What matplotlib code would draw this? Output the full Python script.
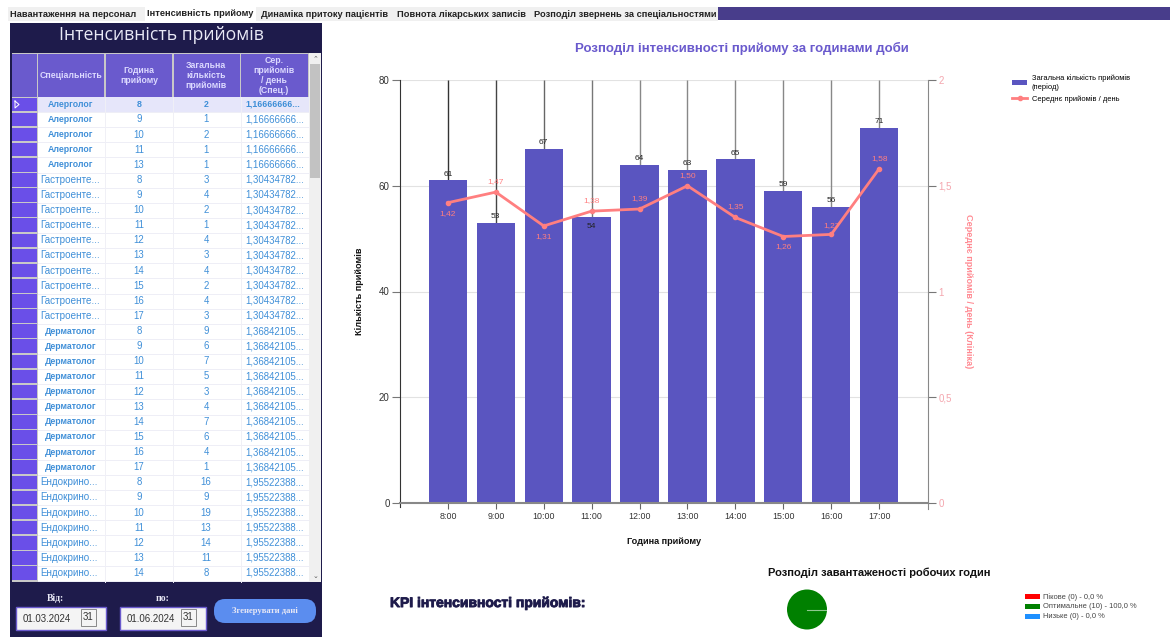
import matplotlib
matplotlib.use("Agg")
import matplotlib.pyplot as plt
import matplotlib.patheffects as pe
from matplotlib.patches import Rectangle, FancyBboxPatch

# --- chart data ---
hours = ["8:00", "9:00", "10:00", "11:00", "12:00", "13:00", "14:00", "15:00", "16:00", "17:00"]
total_visits = [61, 53, 67, 54, 64, 63, 65, 59, 56, 71]
avg_per_day = [1.42, 1.47, 1.31, 1.38, 1.39, 1.50, 1.35, 1.26, 1.27, 1.58]

load_labels = ["Пікове (0) - 0,0 %", "Оптимальне (10) - 100,0 %", "Низьке (0) - 0,0 %"]
load_values = [0, 10, 0]
load_colors = ["#ff0000", "#008000", "#1e90ff"]

# --- grid contents ---
grid_specialty = ["Алерголог"] * 5 + ["Гастроенте..."] * 10 + ["Дерматолог"] * 10 + ["Ендокрино..."] * 7
grid_hour = [8, 9, 10, 11, 13,
             8, 9, 10, 11, 12, 13, 14, 15, 16, 17,
             8, 9, 10, 11, 12, 13, 14, 15, 16, 17,
             8, 9, 10, 11, 12, 13, 14]
grid_count = [2, 1, 2, 1, 1,
              3, 4, 2, 1, 4, 3, 4, 2, 4, 3,
              9, 6, 7, 5, 3, 4, 7, 6, 4, 1,
              16, 9, 19, 13, 14, 11, 8]
grid_avg = ["1,16666666..."] * 5 + ["1,30434782..."] * 10 + ["1,36842105..."] * 10 + ["1,95522388..."] * 7
grid_headers = ["Спеціальність", "Година\nприйому", "Загальна\nкількість\nприйомів",
                "Сер.\nприйомів\n/ день\n(Спец.)"]
tab_names = ["Навантаження на персонал", "Інтенсивність прийому", "Динаміка притоку пацієнтів",
             "Повнота лікарських записів", "Розподіл звернень за спеціальностями"]

W, H = 1170, 637
NAVY = "#1e1b4b"
SLATE = "#6a5acd"
BAR = "#5a55c0"
LINE = "#ff7f80"
SANS = ["Liberation Sans", "DejaVu Sans"]
SERIF = ["Liberation Serif", "DejaVu Serif"]

plt.rcParams["font.family"] = SANS
fig = plt.figure(figsize=(W / 100, H / 100), dpi=100, facecolor="white")


def px_axes(x0, y0, x1, y1, **kw):
    """Axes placed by pixel edges, measured from the top-left of the figure."""
    return fig.add_axes([x0 / W, 1 - y1 / H, (x1 - x0) / W, (y1 - y0) / H], **kw)


# --- window chrome and data grid, drawn on a pixel-unit canvas ---
ui = px_axes(0, 0, W, H)
ui.set_xlim(0, W)
ui.set_ylim(H, 0)
ui.axis("off")


def box(x0, y0, x1, y1, color, **kw):
    ui.add_patch(Rectangle((x0, y0), x1 - x0, y1 - y0, facecolor=color, edgecolor="none", **kw))


box(8, 7, 718, 21, "#f0f0f0")
box(718, 7, W, 20, "#483d8b")
box(145, 6, 256, 22, "white")
tab_left = [10, 147, 261, 397, 534]
for i, (name, x) in enumerate(zip(tab_names, tab_left)):
    ui.text(x, 14.5 if i != 1 else 13, name, fontsize=6.65, fontweight="bold", color="#222222",
            va="center", ha="left")

box(10, 23, 322, 637, NAVY)
ui.text(161, 35, "Інтенсивність прийомів", color="#e8e8f5", fontsize=12.7, ha="center", va="center",
        family=["Open Sans", "DejaVu Sans"])

box(12, 53, 320, 582, "#c8c8c8")
box(38, 97, 309, 582, "white")

col_edges = [(38, 104), (106, 172), (174, 240), (241, 308)]
col_centers = [71, 139, 206, 274]
box(12, 54, 37, 97, SLATE)
for (a, b), c, head in zip(col_edges, col_centers, grid_headers):
    box(a, 54, b, 97, SLATE)
    ui.text(c, 75.5, head, color="#dcd9ff", fontsize=6.3, fontweight="bold", ha="center", va="center",
            linespacing=1.1)

ROW_TOP, ROW_STEP = 97, 15.12
for i, (spec, hour, count, avg) in enumerate(zip(grid_specialty, grid_hour, grid_count, grid_avg)):
    top = ROW_TOP + i * ROW_STEP
    mid = top + ROW_STEP / 2 - 0.3
    box(12, top + 0.5, 37, top + ROW_STEP - 1, "#6a4fe8")
    if i == 0:
        box(38, top, 309, top + ROW_STEP, "#e6e6fa")
    ui.plot([38, 309], [top + ROW_STEP] * 2, color="#eeeef6", lw=0.7)
    weight = "bold" if i == 0 else "normal"
    txt = "#3f8fd8"
    centred = spec.endswith("г")
    if centred:
        ui.text(71, mid, spec, color=txt, fontsize=6.3, fontweight="bold", ha="center", va="center")
    else:
        ui.text(40, mid, spec, color=txt, fontsize=7.1, ha="left", va="center")
    num_size = 6.4 if i == 0 else 6.9
    ui.text(139, mid, str(hour), color=txt, fontsize=num_size, fontweight=weight, ha="center", va="center")
    ui.text(206, mid, str(count), color=txt, fontsize=num_size, fontweight=weight, ha="center", va="center")
    ui.text(245, mid, avg, color=txt, fontsize=num_size, fontweight=weight, ha="left", va="center")

for a, b in [(104, 106), (172, 174), (240, 241)]:
    ui.plot([(a + b) / 2] * 2, [97, 582], color="#f0f0f6", lw=0.7)

# row-selection marker and scrollbar
ui.plot([15, 19, 15, 15], [101, 104.5, 108, 101], color="white", lw=0.7)
box(309, 53, 321, 582, "#f0f0f0")
box(310, 64, 320, 178, "#c2c2c2")
ui.text(315, 59, "⌃", fontsize=5, color="#555555", ha="center", va="center")
ui.text(315, 576, "⌄", fontsize=5, color="#555555", ha="center", va="center")

# date range controls
ui.text(55, 598.5, "Від:", color="#e8e8f5", fontsize=7, fontweight="bold", ha="center", va="center",
        family=SERIF)
ui.text(163, 598.5, "по:", color="#e8e8f5", fontsize=7, fontweight="bold", ha="center", va="center",
        family=SERIF)
for x0, x1, date in [(16, 106, "01.03.2024"), (120, 206, "01.06.2024")]:
    ui.add_patch(Rectangle((x0, 607), x1 - x0, 23, facecolor="#f4f4f4", edgecolor=SLATE, lw=1))
    ui.text(x0 + 7, 618.5, date, color="#333333", fontsize=7, ha="left", va="center")
    ui.add_patch(Rectangle((x1 - 25, 609), 15, 17, facecolor="#f4f4f4", edgecolor="#777777", lw=0.6))
    ui.text(x1 - 17.5, 617.5, "31", color="#333333", fontsize=7, ha="center", va="center")
ui.add_patch(FancyBboxPatch((214, 599), 102, 24, boxstyle="round,pad=0,rounding_size=11",
                            facecolor="#5b8def", edgecolor="none"))
ui.text(265, 610.5, "Згенерувати дані", color="#e8e8f5", fontsize=6.2, fontweight="bold", ha="center",
        va="center", family=SERIF)

# --- bars and average line ---
ax = px_axes(400, 80, 928, 503)
ax.set_facecolor("none")
x = list(range(len(hours)))
ax.set_xlim(-1, 10.02)
ax.set_ylim(0, 80)
ax.grid(axis="y", color="#e2e2e2", lw=0.8)
ax.set_axisbelow(True)
ax.bar(x, total_visits, width=0.8, color=BAR, zorder=2, label="Загальна кількість прийомів\n(період)")
stem_colors = ["#333333", "#444444", "#666666", "#777777", "#888888", "#888888", "#888888", "#888888",
               "#888888", "#888888"]
ax.vlines(x, total_visits, 80, colors=stem_colors, lw=1.0, zorder=1.5)
ax.set_xticks(x, hours)
ax.set_yticks([0, 20, 40, 60, 80])
ax.tick_params(axis="x", length=4, width=0.8, color="#666666", labelsize=6.4, labelcolor="#333333", pad=2.5)
ax.tick_params(axis="y", length=6, width=0.8, color="#777777", labelsize=7, labelcolor="#333333", pad=1.5)
ax.spines["top"].set_visible(False)
ax.spines["right"].set_visible(False)
ax.spines["left"].set_color("#333333")
ax.spines["left"].set_bounds(-0.8, 80)
ax.spines["bottom"].set_color("#888888")
ax.spines["bottom"].set_linewidth(1.5)
ax.set_xlabel("Година прийому", fontsize=6.6, fontweight="bold", color="#111111")
ax.xaxis.set_label_coords((664 - 400) / 528, -(537 - 503) / 423, transform=ax.transAxes)
ax.set_ylabel("Кількість прийомів", fontsize=6.6, fontweight="bold", color="#111111", va="center")
ax.yaxis.set_label_coords((360 - 400) / 528, 0.5)

bar_offsets = [2] * 10
bar_offsets[3] = -9
for xi, v, off in zip(x, total_visits, bar_offsets):
    ax.annotate(str(v), (xi, v), xytext=(0, off), textcoords="offset points", ha="center", va="bottom",
                fontsize=6, color="#222222", zorder=6)

ax2 = ax.twinx()
ax2.set_ylim(0, 2)
ax2.plot(x, avg_per_day, color=LINE, lw=2, marker="o", ms=3, zorder=5, label="Середнє прийомів / день")
ax2.set_yticks([0, 0.5, 1, 1.5, 2], ["0", "0,5", "1", "1,5", "2"])
ax2.tick_params(axis="y", length=6, width=0.8, color="#777777", labelsize=7, labelcolor="#f4a6ae", pad=1.5)
for side in ("top", "left", "bottom"):
    ax2.spines[side].set_visible(False)
ax2.spines["right"].set_color("#888888")
ax2.spines["right"].set_bounds(-0.03, 2)
ax2.set_ylabel("Середнє прийомів / день (Клініка)", fontsize=6.6, fontweight="bold", color="#ff8a92",
               rotation=270, va="center")
ax2.yaxis.set_label_coords((968 - 400) / 528, 0.5)

line_offsets = [-10, 5, -10, 5, 5, 5, 5, -10, 4, 5]
for xi, v, off in zip(x, avg_per_day, line_offsets):
    ax2.annotate(f"{v:.2f}".replace(".", ","), (xi, v), xytext=(0, off), textcoords="offset points",
                 ha="center", va="bottom", fontsize=6, color=LINE, zorder=7)

fig.text(742 / W, 1 - 48 / H, "Розподіл інтенсивності прийому за годинами доби", color=SLATE, fontsize=9.5,
         fontweight="bold", ha="center", va="center")

# series key, upper right
handles = ax.get_legend_handles_labels()[0] + ax2.get_legend_handles_labels()[0]
labels = ax.get_legend_handles_labels()[1] + ax2.get_legend_handles_labels()[1]
fig.legend(handles, labels, loc="upper left", bbox_to_anchor=(1012 / W, 1 - 74 / H), frameon=False,
           prop={"size": 5.4}, labelspacing=0.6, handlelength=2.05, handletextpad=0.6,
           borderpad=0, borderaxespad=0)

# --- KPI heading and load-share pie ---
fig.text(390 / W, 1 - 603 / H, "KPI інтенсивності прийомів:", color=NAVY, fontsize=10, fontweight="bold",
         ha="left", va="center",
         path_effects=[pe.withStroke(linewidth=0.6, foreground=NAVY)])
fig.text(879 / W, 1 - 573 / H, "Розподіл завантаженості робочих годин", color="#111111", fontsize=8,
         fontweight="bold", ha="center", va="center")
pie_ax = px_axes(787, 589.5, 827, 629.5)
pie_ax.pie(load_values, colors=load_colors, radius=1.0, startangle=0,
           wedgeprops={"linewidth": 0}, normalize=True)
pie_ax.plot([0, 1], [0, 0], color="#8fc98f", lw=0.8)
pie_ax.set_xlim(-1, 1)
pie_ax.set_ylim(-1, 1)

for label, color, y in zip(load_labels, load_colors, [598, 608, 618]):
    box(1025, y - 4, 1040, y + 1, color)
    ui.text(1043, y - 1, label, fontsize=5.4, color="#444444", ha="left", va="center")

fig.savefig("out.png", dpi=100)
